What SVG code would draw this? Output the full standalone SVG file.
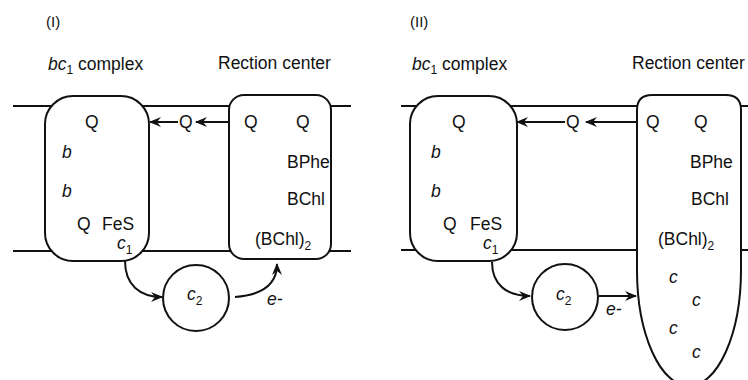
<svg xmlns="http://www.w3.org/2000/svg" width="748" height="380" viewBox="0 0 748 380">
<style>
text{font-family:"Liberation Sans",Arial,sans-serif;font-size:17.5px;fill:#111}
.i{font-style:italic}
.s{font-size:12px;font-style:normal}
.lbl{font-size:15px}
.box{fill:#fff;stroke:#111;stroke-width:2}
.mem{stroke:#111;stroke-width:2;fill:none}
.con{stroke:#111;stroke-width:2;fill:none}
</style>
<defs>
<marker id="ah" viewBox="0 0 12 10" refX="11" refY="5" markerWidth="12" markerHeight="10" markerUnits="userSpaceOnUse" orient="auto">
<path d="M0,0 L12,5 L0,10 L4,5 Z" fill="#111"/>
</marker>
</defs>
<g id="membranes">
<line class="mem" x1="13" y1="106" x2="351" y2="106"/>
<line class="mem" x1="13" y1="251" x2="351" y2="251"/>
<line class="mem" x1="401" y1="106" x2="748" y2="106"/>
<line class="mem" x1="401" y1="250" x2="748" y2="250"/>
</g>
<g id="titles">
<text class="lbl" x="46" y="27">(I)</text>
<text x="48" y="70"><tspan class="i">bc</tspan><tspan class="s" dy="4">1</tspan><tspan dy="-4"> complex</tspan></text>
<text x="218" y="69">Rection center</text>
<text class="lbl" x="410" y="27">(II)</text>
<text x="412" y="70"><tspan class="i">bc</tspan><tspan class="s" dy="4">1</tspan><tspan dy="-4"> complex</tspan></text>
<text x="632" y="69">Rection center</text>
</g>
<g id="bc1-I">
<rect class="box" x="45" y="96" width="104" height="165" rx="28" ry="28"/>
<text x="85" y="128">Q</text>
<text class="i" x="62" y="158">b</text>
<text class="i" x="62" y="197">b</text>
<text x="77" y="230">Q</text>
<text x="102" y="230">FeS</text>
<text x="117" y="249"><tspan class="i">c</tspan><tspan class="s" dy="5">1</tspan></text>
</g>
<g id="rc-I">
<rect class="box" x="229" y="95" width="102" height="164" rx="15" ry="15"/>
<text x="244" y="128">Q</text>
<text x="296" y="128">Q</text>
<text x="287" y="168">BPhe</text>
<text x="287" y="205">BChl</text>
<text x="255" y="245">(BChl)<tspan class="s" dy="5">2</tspan></text>
</g>
<g id="c2-I">
<circle class="box" cx="196" cy="298" r="33"/>
<text x="187" y="300"><tspan class="i">c</tspan><tspan class="s" dy="5">2</tspan></text>
</g>
<g id="q-I">
<text x="179" y="128">Q</text>
</g>
<g id="bc1-II">
<rect class="box" x="410" y="96" width="107" height="165" rx="28" ry="28"/>
<text x="452" y="128">Q</text>
<text class="i" x="431" y="158">b</text>
<text class="i" x="431" y="197">b</text>
<text x="443" y="230">Q</text>
<text x="470" y="230">FeS</text>
<text x="483" y="249"><tspan class="i">c</tspan><tspan class="s" dy="5">1</tspan></text>
</g>
<g id="rc-II">
<path class="box" d="M652 95 L726 95 Q741 95 741 110 L741 270 A52 116 0 0 1 637 270 L637 110 Q637 95 652 95 Z"/>
<text x="646" y="128">Q</text>
<text x="694" y="128">Q</text>
<text x="690" y="168">BPhe</text>
<text x="691" y="205">BChl</text>
<text x="658" y="245">(BChl)<tspan class="s" dy="5">2</tspan></text>
<text class="i" x="669" y="283">c</text>
<text class="i" x="692" y="306">c</text>
<text class="i" x="669" y="334">c</text>
<text class="i" x="692" y="358">c</text>
</g>
<g id="c2-II">
<circle class="box" cx="565" cy="297" r="33"/>
<text x="556" y="300"><tspan class="i">c</tspan><tspan class="s" dy="5">2</tspan></text>
</g>
<g id="q-II">
<text x="566" y="128">Q</text>
</g>
<g id="connectors">
<line class="con" x1="229" y1="122" x2="196" y2="122" marker-end="url(#ah)"/>
<line class="con" x1="178" y1="122" x2="150" y2="122" marker-end="url(#ah)"/>
<path class="con" d="M125 261 C125 285 140 297 162 297" marker-end="url(#ah)"/>
<path class="con" d="M235 297 C262 295 277 284 277 264" marker-end="url(#ah)"/>
<line class="con" x1="637" y1="122" x2="586" y2="122" marker-end="url(#ah)"/>
<line class="con" x1="565" y1="122" x2="517" y2="122" marker-end="url(#ah)"/>
<path class="con" d="M492 262 C492 285 507 296 530 296" marker-end="url(#ah)"/>
<line class="con" x1="599" y1="296" x2="636" y2="296" marker-end="url(#ah)"/>
</g>
<g id="labels">
<text class="i" x="267" y="305">e-</text>
<text class="i" x="606" y="315">e-</text>
</g>
</svg>
